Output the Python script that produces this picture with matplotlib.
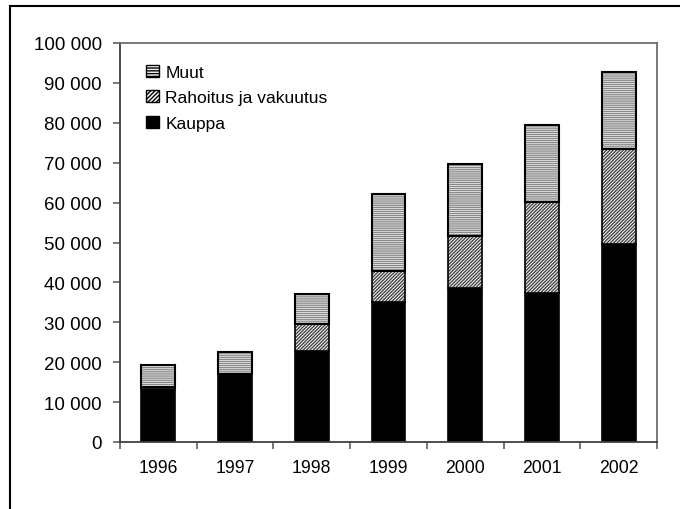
import matplotlib.pyplot as plt
import matplotlib.patches as mpatches
from matplotlib.lines import Line2D
import numpy as np

plt.rcParams['font.family'] = ['Liberation Sans', 'DejaVu Sans']
plt.rcParams['hatch.linewidth'] = 1.0

# Data
years = ['1996', '1997', '1998', '1999', '2000', '2001', '2002']
kauppa = [13400, 17000, 22800, 35000, 38700, 37300, 49500]
rahoitus = [500, 0, 6700, 7800, 13000, 22900, 24000]
muut = [5500, 5600, 7700, 19400, 18000, 19300, 19300]

fig = plt.figure(figsize=(6.8, 5.1), dpi=100)
ax = fig.add_axes([120 / 680, 67 / 510, 537 / 680, 399 / 510])

x = np.arange(len(years))
k = np.array(kauppa)
r = np.array(rahoitus)
m = np.array(muut)
w = 0.44

ax.bar(x, k, w, color='black', edgecolor='black', linewidth=1.2)
# hatching drawn first in grey, then outlines in black
ax.bar(x, r, w, bottom=k, color='white', edgecolor='#444444',
       hatch='//////////', linewidth=0)
ax.bar(x, r, w, bottom=k, fill=False, edgecolor='black', linewidth=1.2)
ax.bar(x, m, w, bottom=k + r, color='white', edgecolor='#888888',
       hatch='--------', linewidth=0)
ax.bar(x, m, w, bottom=k + r, fill=False, edgecolor='black', linewidth=1.5)

ax.set_xlim(-0.5, len(years) - 0.5)
ax.set_ylim(0, 100000)

# y axis
yt = np.arange(0, 100001, 10000)
ax.set_yticks(yt)
ax.set_yticklabels(['{:,}'.format(v).replace(',', ' ') for v in yt])

# x axis: ticks at category boundaries, labels at centres
ax.set_xticks(np.arange(-0.5, len(years), 1))
ax.set_xticklabels([])
ax.set_xticks(x, minor=True)
ax.set_xticklabels(years, minor=True)
ax.tick_params(axis='x', which='minor', length=0, pad=12, labelsize=12.7)
ax.tick_params(axis='both', which='major', length=5, width=1.2,
               color='#606060')
ax.tick_params(axis='y', pad=8, labelsize=13.5)

for s in ax.spines.values():
    s.set_color('#707070')
    s.set_linewidth(1.3)
ax.spines['left'].set_color('#404040')
ax.spines['bottom'].set_color('#404040')

# legend
h_m = mpatches.Patch(facecolor='white', edgecolor='black', hatch='------')
h_r = mpatches.Patch(facecolor='white', edgecolor='black', hatch='////////')
h_k = mpatches.Patch(facecolor='black', edgecolor='black')
ax.legend([h_m, h_r, h_k], ['Muut', 'Rahoitus ja vakuutus', 'Kauppa'],
          loc='upper left', bbox_to_anchor=(0.02, 0.985), frameon=False,
          fontsize=12.5, handlelength=0.7, handleheight=0.7,
          handletextpad=0.4, labelspacing=0.6)

# outer frame (left and top edges)
fig.add_artist(Line2D([10 / 680, 10 / 680], [0, 1 - 7 / 510],
                      color='black', lw=1.5))
fig.add_artist(Line2D([10 / 680, 1], [1 - 7 / 510, 1 - 7 / 510],
                      color='black', lw=1.5))

fig.savefig('out.png', dpi=100)
